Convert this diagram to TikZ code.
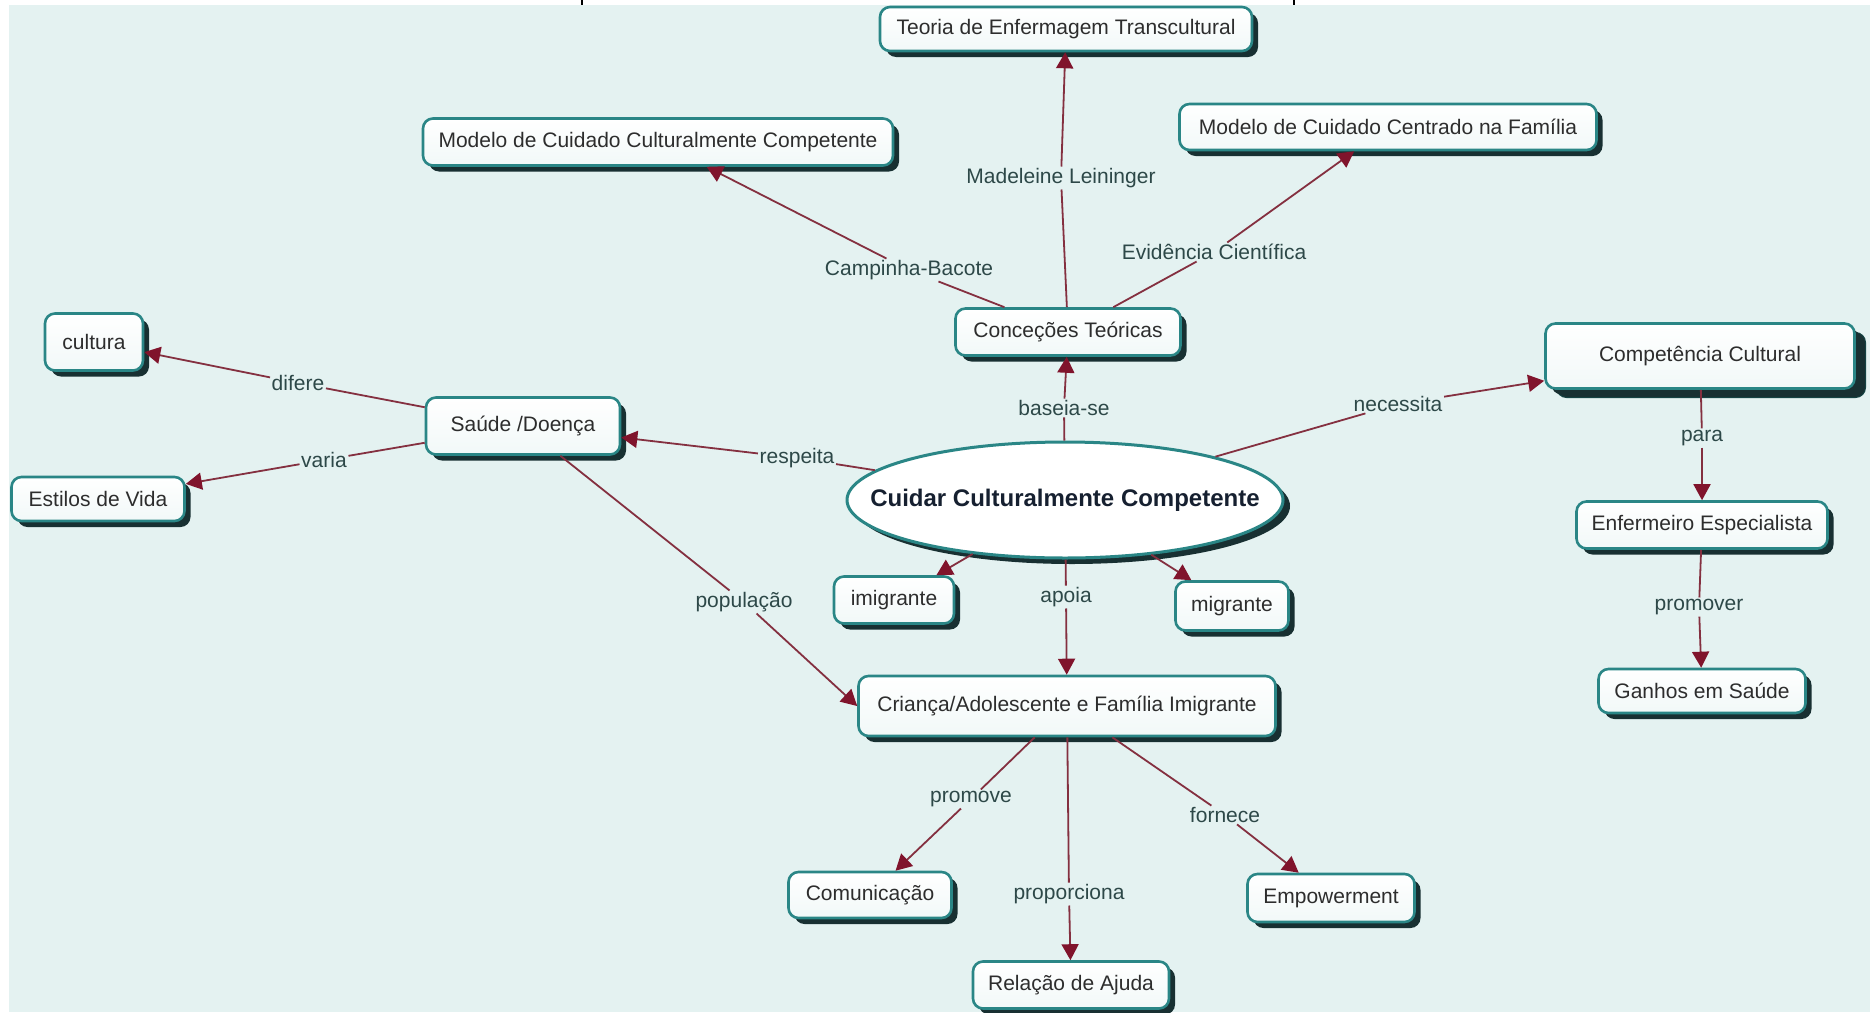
\documentclass[tikz,border=0pt]{standalone}
\usepackage{fontspec}
\setmainfont{Liberation Sans}
\usetikzlibrary{shapes.geometric,shadows,arrows.meta}
\definecolor{bgc}{RGB}{228,242,241}
\definecolor{bordc}{RGB}{42,134,134}
\definecolor{shadc}{RGB}{24,48,50}
\definecolor{linec}{RGB}{132,48,64}
\definecolor{tipc}{RGB}{128,20,44}
\definecolor{txtc}{RGB}{45,45,45}
\definecolor{lblc}{RGB}{45,72,72}
\definecolor{ctrc}{RGB}{22,32,48}
\tikzset{
  concept/.style={rectangle, rounded corners=10pt, draw=bordc, line width=2.6pt,
    top color=white, bottom color=bgc!50!white, text=txtc,
    font=\fontsize{21}{25}\selectfont, inner sep=0pt,
    drop shadow={shadow xshift=6pt, shadow yshift=-6pt, fill=shadc, opacity=1}},
  stacked/.style={rectangle, rounded corners=10pt, draw=bordc, line width=2.6pt,
    top color=white, bottom color=bgc!50!white, text=txtc,
    font=\fontsize{21}{25}\selectfont, inner sep=0pt,
    drop shadow={shadow xshift=11pt, shadow yshift=-9pt, fill=shadc, draw=bordc!50!black, line width=1pt, opacity=1},
    drop shadow={shadow xshift=6pt, shadow yshift=-6pt, fill=shadc, opacity=1}},
  central/.style={ellipse, draw=bordc, line width=3pt, fill=white, inner sep=0pt,
    drop shadow={shadow xshift=7pt, shadow yshift=-6pt, fill=shadc, opacity=1}},
  centraltext/.style={text=ctrc, font=\bfseries\fontsize{24}{28}\selectfont, inner sep=0pt},
  lbl/.style={fill=bgc, text=lblc, inner sep=1.5pt, font=\fontsize{21}{25}\selectfont},
  conn/.style={draw=linec, line width=1.8pt},
  arr/.style={conn, -{Triangle[length=16pt,width=17pt,fill=tipc,color=tipc]}},
}
\begin{document}
\begin{tikzpicture}[x=1pt,y=-1pt]
\useasboundingbox (0,0) rectangle (1870,1012);
\fill[white] (0,0) rectangle (1870,1012);
\fill[bgc] (9,5) rectangle (1870,1012);
\draw[black, line width=1.2pt] (582,0) -- (582,5);
\draw[black, line width=1.2pt] (1294,0) -- (1294,5);

% concepts
\node[concept, minimum width=372, minimum height=44] (teoria) at (1066,29) {Teoria de Enfermagem Transcultural};
\node[concept, minimum width=470, minimum height=47] (modccc) at (658,142) {Modelo de Cuidado Culturalmente Competente};
\node[concept, minimum width=417, minimum height=46] (centrado) at (1388,127) {Modelo de Cuidado Centrado na Família};
\node[concept, minimum width=225, minimum height=47] (conc) at (1068,332) {Conceções Teóricas};
\node[concept, minimum width=98, minimum height=57] (cultura) at (94,342) {cultura};
\node[concept, minimum width=194, minimum height=57] (saude) at (523,426) {Saúde /Doença};
\node[concept, minimum width=173, minimum height=44] (estilos) at (98,499) {Estilos de Vida};
\node[stacked, minimum width=309, minimum height=65] (comp) at (1700,356) {Competência Cultural};
\node[central, minimum width=436, minimum height=116] (cuidar) at (1065,500) {};
\node[centraltext] (cuidartxt) at (cuidar.center) {Cuidar Culturalmente Competente};
\node[concept, minimum width=120, minimum height=47] (imig) at (894,600) {imigrante};
\node[concept, minimum width=113, minimum height=49] (migr) at (1232,606) {migrante};
\node[concept, minimum width=251, minimum height=47] (enf) at (1702,525) {Enfermeiro Especialista};
\node[concept, minimum width=207, minimum height=44] (ganhos) at (1702,691) {Ganhos em Saúde};
\node[concept, minimum width=417, minimum height=60] (crianca) at (1067,706) {Criança/Adolescente e Família Imigrante};
\node[concept, minimum width=163, minimum height=46] (comun) at (870,895) {Comunicação};
\node[concept, minimum width=167, minimum height=48] (empow) at (1331,898) {Empowerment};
\node[concept, minimum width=196, minimum height=47] (relacao) at (1071,985) {Relação de Ajuda};

% linking phrases
\node[lbl] (lmad) at (1061,178) {Madeleine Leininger};
\node[lbl] (lcamp) at (909,270) {Campinha-Bacote};
\node[lbl] (levid) at (1214,252) {Evidência Científica};
\node[lbl] (lbas) at (1064,408) {baseia-se};
\node[lbl] (lnec) at (1398,404) {necessita};
\node[lbl] (lresp) at (797,458) {respeita};
\node[lbl] (ldif) at (298,383) {difere};
\node[lbl] (lvar) at (324,460) {varia};
\node[lbl] (lpop) at (744,602) {população};
\node[lbl] (lapo) at (1066,597) {apoia};
\node[lbl] (lpara) at (1702,438) {para};
\node[lbl] (lpromr) at (1699,607) {promover};
\node[lbl] (lpromv) at (971,799) {promove};
\node[lbl] (lforn) at (1225,815) {fornece};
\node[lbl] (lprop) at (1069,894) {proporciona};

% connectors
\draw[conn] (conc) -- (lmad);   \draw[arr] (lmad) -- (teoria);
\draw[conn] (conc) -- (lcamp);  \draw[arr] (lcamp) -- (modccc);
\draw[conn] (conc) -- (levid);  \draw[arr] (levid) -- (centrado);
\draw[conn] (cuidar) -- (lbas); \draw[arr] (lbas) -- (conc);
\draw[conn] (cuidar) -- (lnec); \draw[arr] (lnec) -- (comp);
\draw[conn] (cuidar) -- (lresp); \draw[arr] (lresp) -- (saude);
\draw[conn] (saude) -- (ldif);  \draw[arr] (ldif) -- (cultura);
\draw[conn] (saude) -- (lvar);  \draw[arr] (lvar) -- (estilos);
\draw[conn] (saude) -- (lpop);  \draw[arr] (lpop) -- (crianca.west);
\draw[conn] (cuidar) -- (lapo); \draw[arr] (lapo) -- (crianca);
\draw[arr] (cuidar) -- (imig);
\draw[arr] (cuidar) -- (migr);
\draw[conn] (comp) -- (lpara);  \draw[arr] (lpara) -- (enf);
\draw[conn] (enf) -- (lpromr);  \draw[arr] (lpromr) -- (ganhos);
\draw[conn] (crianca) -- (lpromv); \draw[arr] (lpromv) -- (comun);
\draw[conn] (crianca) -- (lforn);  \draw[arr] (lforn) -- (empow);
\draw[conn] (crianca) -- (lprop);  \draw[arr] (lprop) -- (relacao);
\end{tikzpicture}
\end{document}
